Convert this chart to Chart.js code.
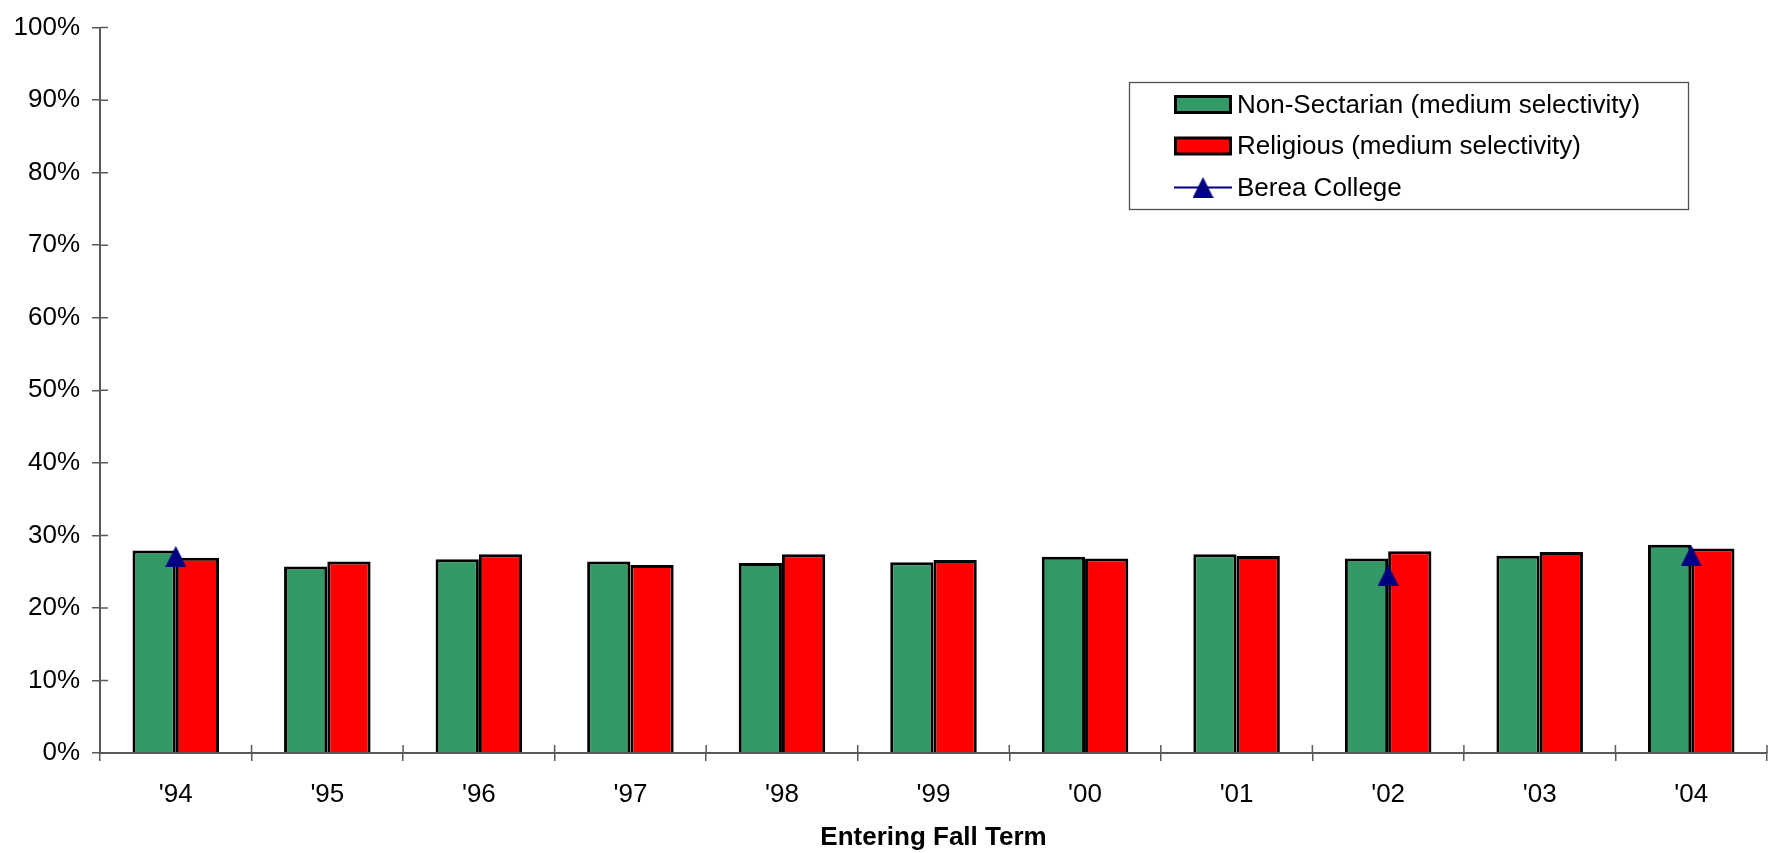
<!DOCTYPE html>
<html><head><meta charset="utf-8">
<script src="https://cdn.jsdelivr.net/npm/chart.js@4/dist/chart.umd.min.js"></script>
<style>html,body{margin:0;padding:0;background:#fff;} #wrap{width:1779px;height:853px;}</style>
</head><body><div id="wrap"><canvas id="c" width="1779" height="853"></canvas></div>
<script>
const years = ["'94","'95","'96","'97","'98","'99","'00","'01","'02","'03","'04"];
const nonSectarian = [27.9,25.7,26.7,26.4,26.2,26.3,27.05,27.4,26.8,27.2,28.7];
const religious    = [26.9,26.4,27.4,25.9,27.4,26.6,26.8,27.15,27.8,27.7,28.2];
const berea        = [27.1,null,null,null,null,null,null,null,24.5,null,27.2];
const seriesNames = ['Non-Sectarian (medium selectivity)','Religious (medium selectivity)','Berea College'];
const xTitle = 'Entering Fall Term';

const FONT = "'Liberation Sans', Arial, sans-serif";
const GREEN = '#339966', RED = '#FF0000', NAVY = '#000080', AXIS = '#5a5a5a';

function makeTriangle(size, color){
  const cv = document.createElement('canvas');
  cv.width = size; cv.height = size;
  const g = cv.getContext('2d');
  g.fillStyle = color;
  g.beginPath();
  g.moveTo(size/2, 0);
  g.lineTo(size, size);
  g.lineTo(0, size);
  g.closePath();
  g.fill();
  return cv;
}
const tri = makeTriangle(21, NAVY);

const crossTicks = {
  id: 'crossTicks',
  afterDraw(chart){
    const ctx = chart.ctx, a = chart.chartArea;
    const xs = chart.scales.x, ys = chart.scales.y;
    ctx.save();
    ctx.strokeStyle = AXIS; ctx.lineWidth = 1.5;
    ctx.beginPath();
    ys.ticks.forEach((t,i)=>{
      const y = ys.getPixelForTick(i);
      ctx.moveTo(a.left, y); ctx.lineTo(a.left + 8, y);
    });
    for (let i = 0; i <= years.length; i++){
      const x = xs.getPixelForValue(i - 0.5);
      ctx.moveTo(x, a.bottom); ctx.lineTo(x, a.bottom - 8);
    }
    ctx.stroke();
    ctx.restore();
  }
};

const legendBox = {
  id: 'legendBox',
  afterDraw(chart){
    const ctx = chart.ctx;
    const bx = 1129.5, by = 82.5, bw = 559, bh = 127;
    ctx.save();
    ctx.fillStyle = '#fff';
    ctx.fillRect(bx, by, bw, bh);
    ctx.strokeStyle = '#505050'; ctx.lineWidth = 1.3;
    ctx.strokeRect(bx, by, bw, bh);
    const rows = [104.5, 146, 187.5];
    ctx.font = '26px ' + FONT;
    ctx.textBaseline = 'middle';
    chart.data.datasets.forEach((ds, i) => {
      const cy = rows[i];
      if (ds.type === 'line'){
        ctx.strokeStyle = ds.borderColor; ctx.lineWidth = 2;
        ctx.beginPath(); ctx.moveTo(1174, cy); ctx.lineTo(1232, cy); ctx.stroke();
        ctx.drawImage(tri, 1203 - 10.5, cy - 10.5);
      } else {
        ctx.fillStyle = '#000';
        ctx.fillRect(1174, cy - 9.5, 58, 19);
        ctx.fillStyle = ds.backgroundColor;
        ctx.fillRect(1177, cy - 6.5, 52, 13);
      }
      ctx.fillStyle = '#000';
      ctx.fillText(ds.label, 1237, cy + 1);
    });
    ctx.restore();
  }
};

new Chart(document.getElementById('c'), {
  type: 'bar',
  data: {
    labels: years,
    datasets: [
      { type:'bar', label: seriesNames[0], data: nonSectarian, backgroundColor: GREEN, borderColor:'#000', borderWidth: 3, order: 2 },
      { type:'bar', label: seriesNames[1], data: religious, backgroundColor: RED, borderColor:'#000', borderWidth: 3, order: 2 },
      { type:'line', label: seriesNames[2], data: berea, borderColor: NAVY, backgroundColor: NAVY, borderWidth: 2,
        pointStyle: tri, pointRadius: 10, spanGaps: false, order: 0 }
    ]
  },
  options: {
    responsive: false,
    animation: false,
    events: [],
    layout: { padding: { top: 20, right: 3, left: 0, bottom: 0 } },
    datasets: { bar: { categoryPercentage: 0.571, barPercentage: 1.0 } },
    plugins: { legend: { display: false }, tooltip: { enabled: false } },
    scales: {
      x: {
        offset: true,
        grid: { offset: true, drawOnChartArea: false, tickLength: 8, color: AXIS, lineWidth: 1.5 },
        border: { color: AXIS, width: 2 },
        ticks: { color: '#000', font: { family: FONT, size: 26 }, padding: 18, maxRotation: 0 },
        title: { display: true, text: xTitle, color: '#000', font: { family: FONT, size: 26, weight: 'bold' }, padding: { top: 0, bottom: 0 } },
        afterFit(s){ s.height = 100; }
      },
      y: {
        min: 0, max: 100,
        grid: { drawOnChartArea: false, tickLength: 8, color: AXIS, lineWidth: 1.5 },
        border: { color: AXIS, width: 2 },
        ticks: { stepSize: 10, color: '#000', font: { family: FONT, size: 26 }, padding: 12, callback: v => v + '%' },
        afterFit(s){ s.width = 100; }
      }
    }
  },
  plugins: [crossTicks, legendBox]
});
</script>
</body></html>
